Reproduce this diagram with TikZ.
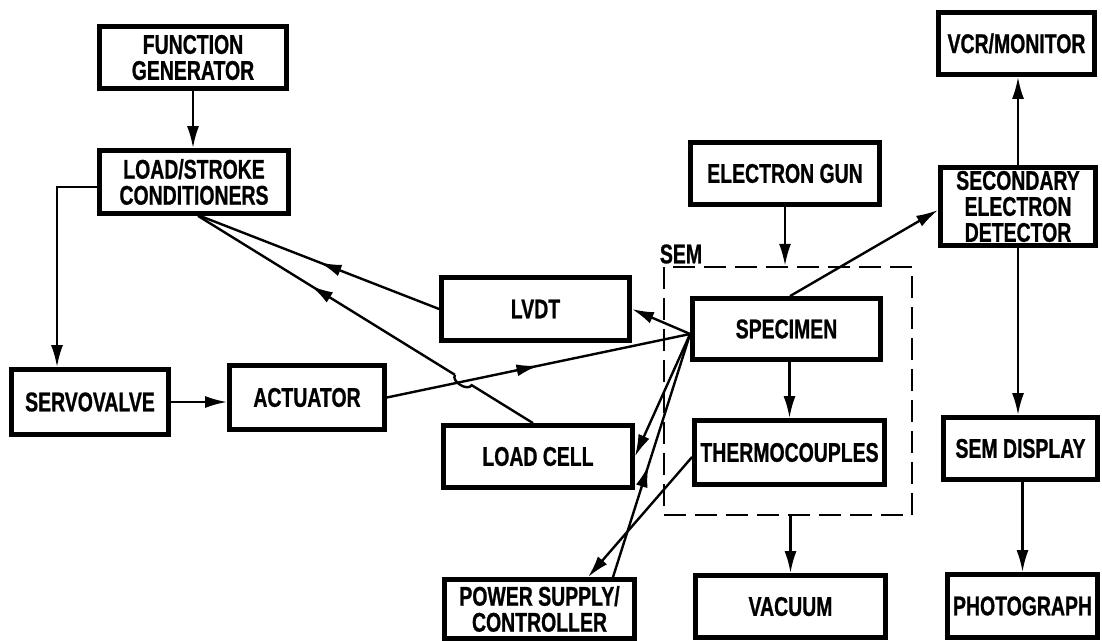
\documentclass[tikz,border=0pt]{standalone}
\usepackage{fontspec}
\newfontfamily\boxfont{Liberation Sans}[FakeStretch=0.72, FakeBold=0.8]
\usetikzlibrary{arrows.meta, calc, decorations.markings}

\begin{document}
\begin{tikzpicture}[
    x=0.5pt, y=-0.5pt,
    font=\boxfont\bfseries\fontsize{13.5}{13}\selectfont,
    blk/.style={draw, line width=2.4pt, inner sep=1pt, align=center, minimum height=31pt},
    semframe/.style={draw, dash pattern=on 11pt off 4.5pt, line width=1.2pt, minimum width=124pt, minimum height=124pt, inner sep=0pt},
    link/.style={line width=1.2pt},
    arrow/.style={link, -{Latex[length=11pt, width=6pt]}},
    midarrow/.style={link, postaction={decorate}, decoration={markings, mark=at position #1 with {\arrow{Latex[length=11pt, width=6pt]}}}}
  ]
    \useasboundingbox (0,0) rectangle (1102,641);

    \node[blk, minimum width=93.5pt] (fgen) at (193,57.5) {FUNCTION\\GENERATOR};
    \node[blk, minimum width=94.5pt, minimum height=31.5pt] (cond) at (194,182) {LOAD/STROKE\\CONDITIONERS};
    \node[blk, minimum width=78.5pt, minimum height=32.5pt] (servo) at (90,402) {SERVOVALVE};
    \node[blk, minimum width=77.5pt, minimum height=32pt] (act) at (307,397.5) {ACTUATOR};
    \node[blk, minimum width=94pt, minimum height=31.5pt] (lvdt) at (535.5,309) {LVDT};
    \node[blk, minimum width=94.5pt] (lcell) at (538,456.5) {LOAD CELL};
    \node[blk, minimum width=95pt, minimum height=29.5pt] (psu) at (539.5,609) {POWER SUPPLY/\\CONTROLLER};

    \node[blk, minimum width=94.5pt] (egun) at (785,173.5) {ELECTRON GUN};
    \node[blk, minimum width=94pt, minimum height=30.5pt] (spec) at (786.5,329) {SPECIMEN};
    \node[blk, minimum width=95pt, minimum height=32pt] (thermo) at (789.5,452.5) {THERMOCOUPLES};
    \node[blk, minimum width=95pt] (vac) at (790.5,606.5) {VACUUM};
    \node[semframe] (sem) at (788,391) {};
    \node[inner sep=0pt] (semlbl) at (681,254) {SEM};

    \node[blk, minimum width=78pt] (vcr) at (1016.5,43.5) {VCR/MONITOR};
    \node[blk, minimum width=77.5pt, minimum height=39pt] (sed) at (1018,206.5) {SECONDARY\\ELECTRON\\DETECTOR};
    \node[blk, minimum width=77pt] (semd) at (1020.5,448.5) {SEM DISPLAY};
    \node[blk, minimum width=75pt, minimum height=31.5pt] (photo) at (1022.5,606) {PHOTOGRAPH};

    \coordinate (sp) at ([yshift=-2.5pt]spec.west);
    \coordinate (lcn) at ([xshift=-2.5pt]lcell.north);
    \coordinate (cnb) at ([xshift=2pt]cond.south);
    \coordinate (hopa) at ($(lcn)!0.183!(cnb)$);
    \coordinate (hopb) at ($(lcn)!0.233!(cnb)$);

    \draw[arrow] (fgen.south) -- (fgen.south |- cond.north);
    \draw[arrow] ([yshift=-2.5pt]cond.west) -| ([xshift=-16.5pt]servo.north);
    \draw[arrow] (servo.east) -- (servo.east -| act.west);
    \draw[midarrow=0.5] (act.east) -- (sp);
    \draw[arrow] (sp) -- (lvdt.east);
    \draw[arrow] (sp) -- (lcell.east);
    \draw[midarrow=0.5] (lvdt.west) -- ([xshift=3pt]cond.south);
    \draw[link] (lcn) -- (hopa) to[bend left=90] (hopb);
    \draw[midarrow=0.56] (hopb) -- (cnb);
    \draw[midarrow=0.46] ([xshift=36.75pt]psu.north) -- (sp);
    \draw[arrow] ([yshift=-2.25pt]thermo.west) -- ([xshift=24.25pt]psu.north);
    \draw[arrow] ([xshift=1.75pt]spec.north) -- ([yshift=-1.75pt]sed.west);
    \draw[arrow] (egun.south) -- (egun.south |- sem.north);
    \draw[arrow] (thermo.north |- spec.south) -- (thermo.north);
    \draw[arrow] (vac.north |- sem.south) -- (vac.north);
    \draw[arrow] (sed.north) -- (sed.north |- vcr.south);
    \draw[arrow] (sed.south) -- (sed.south |- semd.north);
    \draw[arrow] (photo.north |- semd.south) -- (photo.north);
  \end{tikzpicture}
\end{document}
